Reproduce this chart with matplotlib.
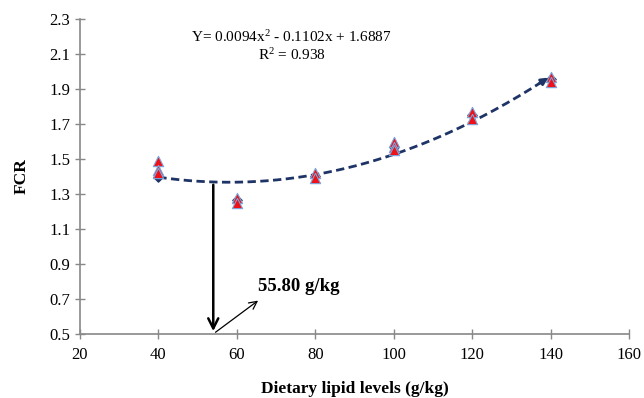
import numpy as np
import matplotlib.pyplot as plt

plt.rcParams['font.family'] = ['Liberation Serif', 'DejaVu Serif']
plt.rcParams['mathtext.fontset'] = 'custom'
plt.rcParams['mathtext.rm'] = 'Liberation Serif'
plt.rcParams['mathtext.default'] = 'regular'

# 日粮脂肪水平与各重复的 FCR
levels = [40, 60, 80, 100, 120, 140]
rep_x = [40, 40, 40, 60, 60, 80, 80, 100, 100, 100, 120, 120, 140, 140]
rep_fcr = [1.49, 1.44, 1.42, 1.28, 1.25, 1.42, 1.39, 1.60, 1.57, 1.55, 1.77, 1.73, 1.97, 1.94]
mean_fcr = [1.40, 1.265, 1.405, 1.57, 1.75, 1.955]

# 图中虚线趋势线读数
trend_x = [40, 55, 80, 100, 120, 140]
trend_y = [1.40, 1.365, 1.405, 1.53, 1.72, 1.97]

optimum = 54
optimum_label = '55.80 g/kg'
equation = 'Y= 0.0094x$^{2}$ - 0.1102x + 1.6887\nR$^{2}$ = 0.938'

fig = plt.figure(figsize=(6.44, 3.98), dpi=100)
ax = fig.add_axes([0.124, 0.161, 0.853, 0.791])

coef = np.polyfit(trend_x, trend_y, 2)
xs = np.linspace(levels[0], levels[-1], 200)
ax.plot(xs[:-3], np.polyval(coef, xs[:-3]), color='#1f3466', lw=2, ls=(0, (3, 1.6)), zorder=2)
ax.annotate('', xy=(xs[-1], np.polyval(coef, xs[-1])), xytext=(xs[-8], np.polyval(coef, xs[-8])),
            arrowprops=dict(arrowstyle='-|>', color='#1f3466', lw=2, mutation_scale=10), zorder=2)

ax.scatter(levels, mean_fcr, marker='D', s=22, color='#1f3466', zorder=3)
ax.scatter(rep_x, rep_fcr, marker='^', s=55, color='#f01018', edgecolor='#7aa6dc', linewidth=0.8, zorder=4)

# 最适水平箭头
ax.annotate('', xy=(optimum, 0.5), xytext=(optimum, np.polyval(coef, optimum)),
            arrowprops=dict(arrowstyle='->', color='black', lw=1.8, mutation_scale=18))
ax.annotate('', xy=(66, 0.7), xytext=(optimum, 0.5),
            arrowprops=dict(arrowstyle='->', color='black', lw=0.9, mutation_scale=14))
ax.text(65.5, 0.72, optimum_label, fontsize=13.5, fontweight='bold', va='bottom', ha='left')

ax.text(74, 2.24, equation, fontsize=11, ha='center', va='top', linespacing=1.1)

ax.set_xlim(20, 160)
ax.set_ylim(0.5, 2.3)
ax.set_xticks(np.arange(20, 161, 20))
ax.set_yticks(np.arange(0.5, 2.31, 0.2))
ax.set_yticklabels(['%.1f' % v for v in np.arange(0.5, 2.31, 0.2)])
ax.tick_params(direction='inout', length=7, color='#888888', labelsize=12, width=1)
ax.tick_params(axis='x', pad=6)
for s in ['top', 'right']:
    ax.spines[s].set_visible(False)
for s in ['left', 'bottom']:
    ax.spines[s].set_color('#888888')
    ax.spines[s].set_linewidth(1.2)

ax.set_xlabel('Dietary lipid levels (g/kg)', fontsize=12.5, fontweight='bold', labelpad=13)
ax.set_ylabel('FCR', fontsize=12.5, fontweight='bold', labelpad=14)

fig.savefig('out.png', dpi=100)
